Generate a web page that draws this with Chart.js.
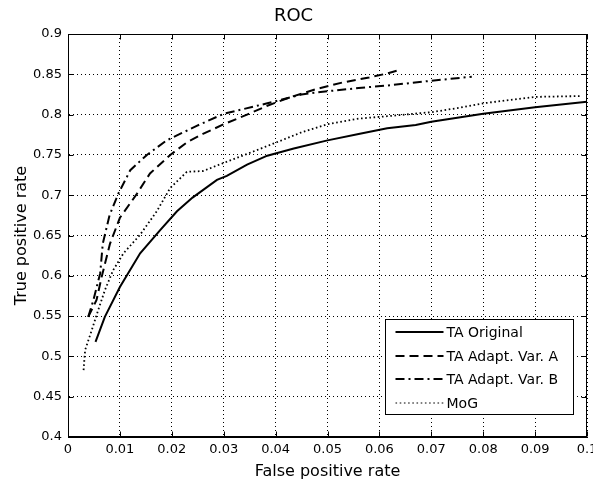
<!DOCTYPE html>
<html>
<head>
<meta charset="utf-8">
<script src="https://cdn.jsdelivr.net/npm/chart.js@4.4.1/dist/chart.umd.min.js"></script>
<style>
  html, body { margin: 0; padding: 0; background: #fff; }
</style>
</head>
<body>
<canvas id="rocChart" width="593" height="486"></canvas>
<script>
// values (false positive rate / true positive rate)
const taOriginalFpr = [0.0053, 0.0071, 0.0100, 0.0139, 0.0178, 0.0210, 0.0240, 0.0287, 0.0306, 0.0345, 0.0384, 0.0435, 0.0500, 0.0560, 0.0615, 0.0670, 0.0700, 0.0750, 0.0800, 0.0900, 0.1000];
const taOriginalTpr = [0.518, 0.549, 0.586, 0.628, 0.657, 0.680, 0.697, 0.719, 0.724, 0.738, 0.749, 0.758, 0.768, 0.776, 0.783, 0.787, 0.791, 0.796, 0.801, 0.809, 0.816];

const adaptAFpr = [0.0039, 0.0055, 0.0065, 0.0081, 0.0100, 0.0133, 0.0158, 0.0197, 0.0230, 0.0260, 0.0300, 0.0345, 0.0384, 0.0430, 0.0480, 0.0530, 0.0580, 0.0615, 0.0642];
const adaptATpr = [0.549, 0.570, 0.599, 0.640, 0.672, 0.702, 0.727, 0.750, 0.766, 0.776, 0.788, 0.800, 0.811, 0.822, 0.832, 0.840, 0.846, 0.851, 0.856];

const adaptBFpr = [0.0039, 0.0049, 0.0062, 0.0067, 0.0080, 0.0097, 0.0120, 0.0152, 0.0190, 0.0248, 0.0300, 0.0384, 0.0450, 0.0500, 0.0560, 0.0615, 0.0700, 0.0778];
const adaptBTpr = [0.549, 0.570, 0.603, 0.640, 0.675, 0.702, 0.731, 0.750, 0.768, 0.786, 0.801, 0.814, 0.825, 0.829, 0.833, 0.836, 0.842, 0.847];

const mogFpr = [0.0030, 0.0033, 0.0046, 0.0058, 0.0071, 0.0087, 0.0107, 0.0139, 0.0171, 0.0197, 0.0229, 0.0260, 0.0300, 0.0384, 0.0450, 0.0500, 0.0560, 0.0615, 0.0700, 0.0750, 0.0800, 0.0900, 0.0990];
const mogTpr = [0.483, 0.508, 0.533, 0.557, 0.582, 0.607, 0.628, 0.651, 0.680, 0.709, 0.729, 0.730, 0.740, 0.761, 0.778, 0.788, 0.795, 0.798, 0.803, 0.808, 0.814, 0.822, 0.823];

const seriesLabels = ['TA Original', 'TA Adapt. Var. A', 'TA Adapt. Var. B', 'MoG'];
const xTickLabels = ['0', '0.01', '0.02', '0.03', '0.04', '0.05', '0.06', '0.07', '0.08', '0.09', '0.1'];
const yTickLabels = ['0.4', '0.45', '0.5', '0.55', '0.6', '0.65', '0.7', '0.75', '0.8', '0.85', '0.9'];

const FONT = '"DejaVu Sans", sans-serif';

function toPoints(xs, ys) {
    return xs.map((x, i) => ({ x: x, y: ys[i] }));
}

// box, inward ticks and the legend, MATLAB style
const matlabFrame = {
    id: 'matlabFrame',
    afterDatasetsDraw(chart) {
        const { ctx, chartArea: a, scales } = chart;
        const left = Math.round(a.left) + 0.5, right = Math.round(a.right) - 0.5;
        const top = Math.round(a.top) + 0.5, bottom = Math.round(a.bottom) - 0.5;
        ctx.save();
        ctx.strokeStyle = '#000';
        ctx.lineWidth = 1;
        ctx.setLineDash([]);
        ctx.beginPath();
        scales.x.ticks.forEach(t => {
            const px = Math.round(scales.x.getPixelForValue(t.value)) + 0.5;
            ctx.moveTo(px, bottom); ctx.lineTo(px, bottom - 5);
            ctx.moveTo(px, top); ctx.lineTo(px, top + 5);
        });
        scales.y.ticks.forEach(t => {
            const py = Math.round(scales.y.getPixelForValue(t.value)) + 0.5;
            ctx.moveTo(left, py); ctx.lineTo(left + 5, py);
            ctx.moveTo(right, py); ctx.lineTo(right - 5, py);
        });
        ctx.stroke();
        ctx.strokeRect(left, top, right - left, bottom - top);

        // legend
        const bw = 188, bh = 95;
        const bx = Math.round(a.right - 14 - bw) + 0.5;
        const by = Math.round(a.bottom - 23 - bh) + 0.5;
        ctx.fillStyle = '#fff';
        ctx.fillRect(bx, by, bw, bh);
        ctx.strokeRect(bx, by, bw, bh);
        ctx.font = '14px ' + FONT;
        ctx.textBaseline = 'middle';
        ctx.textAlign = 'left';
        chart.data.datasets.forEach((ds, i) => {
            const rowY = Math.round(by + 12.5 + i * 23.5);
            ctx.beginPath();
            ctx.lineWidth = i === 3 ? 1 : ds.borderWidth;   // legend dots are thinner than in the plot
            ctx.setLineDash(ds.borderDash || []);
            ctx.moveTo(bx + 10, rowY);
            ctx.lineTo(bx + 58, rowY);
            ctx.stroke();
            ctx.setLineDash([]);
            ctx.fillStyle = '#000';
            ctx.fillText(ds.label, bx + 61, rowY + 1);
        });
        ctx.restore();
    }
};

const ctx = document.getElementById('rocChart').getContext('2d');

new Chart(ctx, {
    type: 'scatter',
    data: {
        datasets: [
            {
                label: seriesLabels[0],
                data: toPoints(taOriginalFpr, taOriginalTpr),
                borderColor: '#000',
                borderWidth: 2,
                borderDash: [],
            },
            {
                label: seriesLabels[1],
                data: toPoints(adaptAFpr, adaptATpr),
                borderColor: '#000',
                borderWidth: 2,
                borderDash: [9, 5],
            },
            {
                label: seriesLabels[2],
                data: toPoints(adaptBFpr, adaptBTpr),
                borderColor: '#000',
                borderWidth: 2,
                borderDash: [9, 4, 2, 4],
            },
            {
                label: seriesLabels[3],
                data: toPoints(mogFpr, mogTpr),
                borderColor: '#000',
                borderWidth: 1.8,
                borderDash: [1.6, 2.6],
            },
        ],
    },
    options: {
        responsive: false,
        animation: false,
        showLine: true,
        elements: {
            point: { radius: 0, hoverRadius: 0 },
            line: { tension: 0, fill: false },
        },
        layout: { padding: { left: 0, right: 6, top: 0, bottom: 0 } },
        plugins: {
            legend: { display: false },
            tooltip: { enabled: false },
            title: {
                display: true,
                text: 'ROC',
                color: '#000',
                font: { family: FONT, size: 18, weight: 'normal' },
                padding: { top: 6, bottom: 6.4 },
            },
        },
        scales: {
            x: {
                type: 'linear',
                min: 0,
                max: 0.1,
                ticks: {
                    stepSize: 0.01,
                    color: '#000',
                    padding: 5,
                    maxRotation: 0,
                    autoSkip: false,
                    font: { family: FONT, size: 13 },
                    callback: (value, index) => xTickLabels[index],
                },
                grid: { color: '#000', drawTicks: false, tickLength: 0 },
                border: { color: '#000', dash: [1, 3] },
                title: {
                    display: true,
                    text: 'False positive rate',
                    color: '#000',
                    font: { family: FONT, size: 16 },
                    padding: { top: 0, bottom: 5 },
                },
                afterFit: (scale) => {
                    scale.height = 49;
                    scale.paddingLeft = 0;
                    scale.paddingRight = 0;
                },
            },
            y: {
                type: 'linear',
                min: 0.4,
                max: 0.9,
                ticks: {
                    stepSize: 0.05,
                    color: '#000',
                    padding: 6,
                    autoSkip: false,
                    font: { family: FONT, size: 13 },
                    callback: (value, index) => yTickLabels[index],
                },
                grid: { color: '#000', drawTicks: false, tickLength: 0 },
                border: { color: '#000', dash: [1, 3] },
                title: {
                    display: true,
                    text: 'True positive rate',
                    color: '#000',
                    font: { family: FONT, size: 16 },
                    padding: { top: 12, bottom: 0 },
                },
                afterFit: (scale) => {
                    scale.width = 68;
                    scale.paddingTop = 0;
                    scale.paddingBottom = 0;
                },
            },
        },
    },
    plugins: [matlabFrame],
});
</script>
</body>
</html>
